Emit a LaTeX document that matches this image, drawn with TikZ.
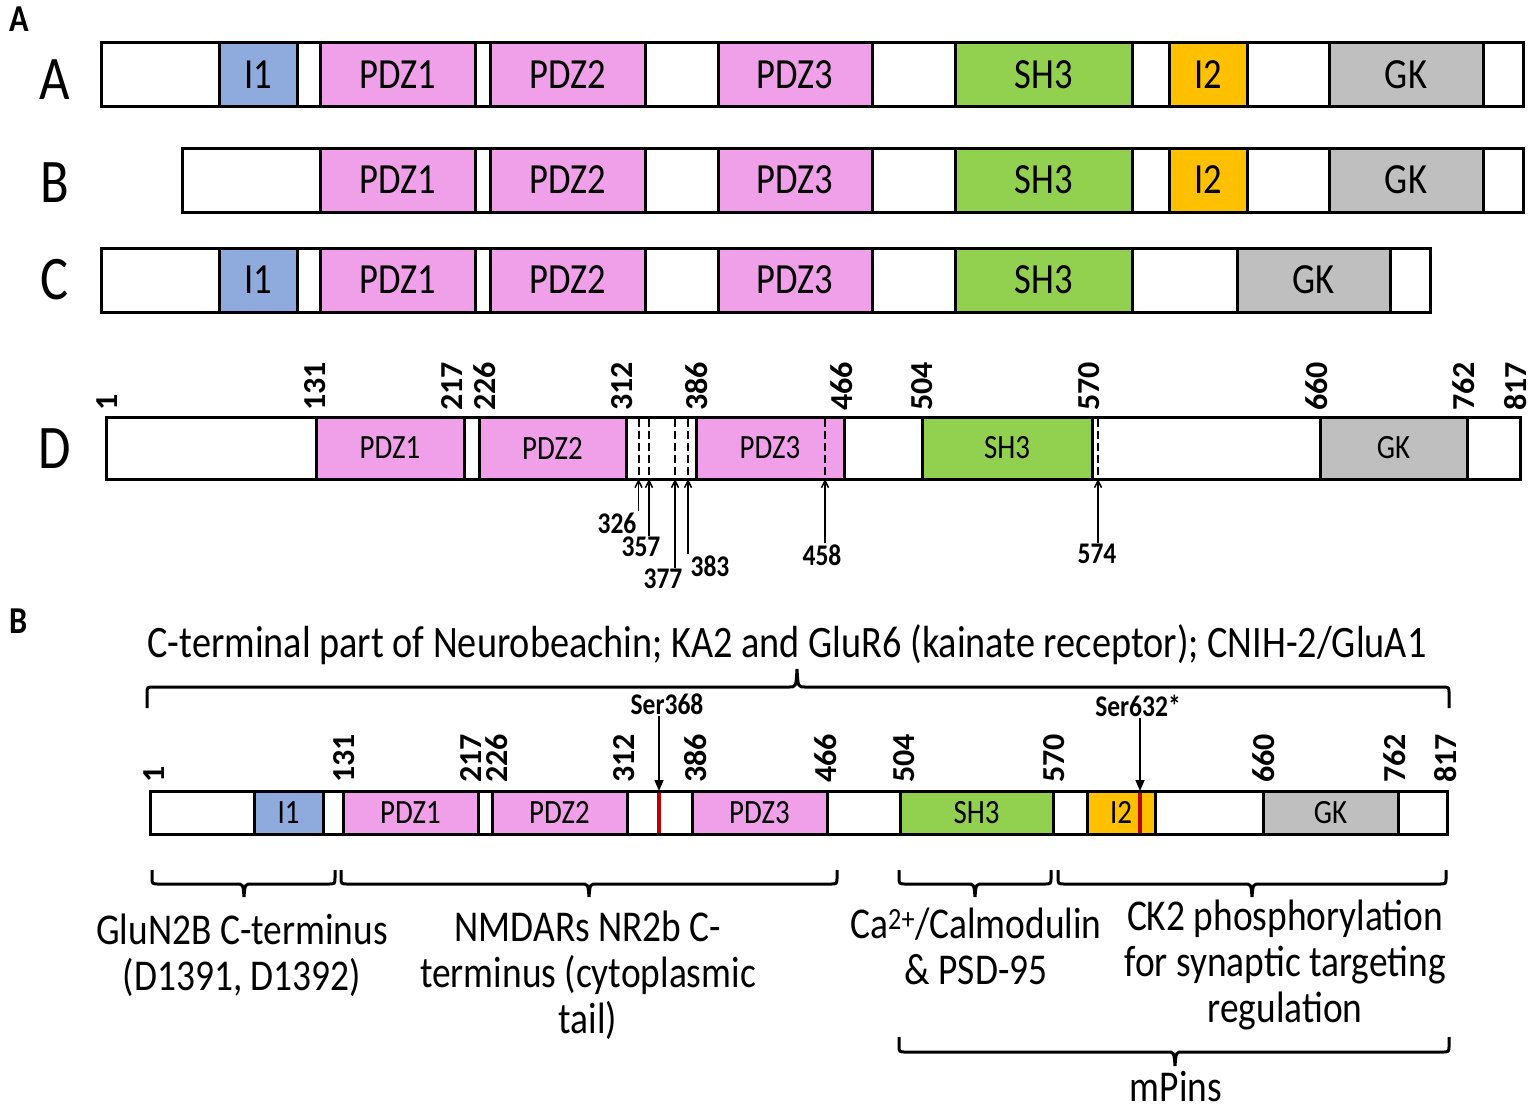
\documentclass[tikz,border=0pt]{standalone}
\usepackage{fontspec}
\setmainfont{Carlito}[FakeStretch=0.85]
\newfontfamily\numfont{Carlito}
\usetikzlibrary{arrows.meta}

\definecolor{pdzpink}{RGB}{240,160,232}
\definecolor{iblue}{RGB}{143,170,220}
\definecolor{shgreen}{RGB}{146,208,80}
\definecolor{iorange}{RGB}{255,192,0}
\definecolor{gkgray}{RGB}{191,191,191}
\definecolor{serred}{RGB}{192,0,0}

\begin{document}
\begin{tikzpicture}[x=1pt, y=-1pt,
    bar/.style={draw, line width=3pt, fill=white, anchor=north west, inner sep=0pt, outer sep=0pt},
    bigdom/.style={bar, minimum height=64pt, font=\fontsize{43}{46}\selectfont},
    middom/.style={bar, minimum height=62pt, font=\fontsize{34}{36}\selectfont},
    lowdom/.style={bar, minimum height=43pt, font=\fontsize{34}{36}\selectfont},
    rowlab/.style={font=\fontsize{62}{64}\selectfont},
    panel/.style={font=\fontsize{38}{40}\selectfont\bfseries},
    resnum/.style={rotate=90, anchor=west, inner sep=0pt, font=\numfont\fontsize{32}{32}\selectfont\bfseries},
    site/.style={inner sep=1pt, font=\fontsize{30}{30}\selectfont\bfseries},
    cut/.style={line width=2pt, dash pattern=on 8pt off 4pt},
    pin/.style={line width=1.5pt, -{Straight Barb[length=7pt,width=7pt]}},
    ser/.style={line width=1.5pt, -{Triangle[length=11pt,width=9pt]}},
    redmark/.style={line width=3.5pt, draw=serred},
    brace/.style={line width=3pt},
    note/.style={align=center, font=\fontsize{44}{46}\selectfont}
]
\useasboundingbox (0,0) rectangle (1536,1113);

% Panel letters
\node[panel] (panelA) at (19,19) {A};
\node[panel] (panelB) at (19,621) {B};

% Row A
\node[rowlab] (labA) at (55,80) {A};
\node[bigdom, minimum width=1422pt] (rowA) at (101,43) {};
\node[bigdom, fill=iblue, minimum width=78pt] (Ai1) at (219,43) {I1};
\node[bigdom, fill=pdzpink, minimum width=155pt] (Apdz1) at (320,43) {PDZ1};
\node[bigdom, fill=pdzpink, minimum width=155pt] (Apdz2) at (490,43) {PDZ2};
\node[bigdom, fill=pdzpink, minimum width=154pt] (Apdz3) at (718,43) {PDZ3};
\node[bigdom, fill=shgreen, minimum width=177pt] (Ash3) at (955,43) {SH3};
\node[bigdom, fill=iorange, minimum width=78pt] (Ai2) at (1169,43) {I2};
\node[bigdom, fill=gkgray, minimum width=154pt] (Agk) at (1329,43) {GK};

% Row B
\node[rowlab] (labB) at (55,183) {B};
\node[bigdom, minimum width=1341pt] (rowB) at (182,148) {};
\node[bigdom, fill=pdzpink, minimum width=155pt] (Bpdz1) at (320,148) {PDZ1};
\node[bigdom, fill=pdzpink, minimum width=155pt] (Bpdz2) at (490,148) {PDZ2};
\node[bigdom, fill=pdzpink, minimum width=154pt] (Bpdz3) at (718,148) {PDZ3};
\node[bigdom, fill=shgreen, minimum width=177pt] (Bsh3) at (955,148) {SH3};
\node[bigdom, fill=iorange, minimum width=78pt] (Bi2) at (1169,148) {I2};
\node[bigdom, fill=gkgray, minimum width=154pt] (Bgk) at (1329,148) {GK};

% Row C
\node[rowlab] (labC) at (55,280) {C};
\node[bigdom, minimum width=1329pt] (rowC) at (101,248) {};
\node[bigdom, fill=iblue, minimum width=78pt] (Ci1) at (219,248) {I1};
\node[bigdom, fill=pdzpink, minimum width=155pt] (Cpdz1) at (320,248) {PDZ1};
\node[bigdom, fill=pdzpink, minimum width=155pt] (Cpdz2) at (490,248) {PDZ2};
\node[bigdom, fill=pdzpink, minimum width=154pt] (Cpdz3) at (718,248) {PDZ3};
\node[bigdom, fill=shgreen, minimum width=177pt] (Csh3) at (955,248) {SH3};
\node[bigdom, fill=gkgray, minimum width=153pt] (Cgk) at (1237,248) {GK};

% Row D
\node[rowlab] (labD) at (55,449) {D};
\node[middom, minimum width=1414pt] (rowD) at (106,417) {};
\node[middom, fill=pdzpink, minimum width=148pt] (Dpdz1) at (316,417) {PDZ1};
\node[middom, fill=pdzpink, minimum width=147pt] (Dpdz2) at (479,417) {PDZ2};
\node[middom, fill=pdzpink, minimum width=148pt] (Dpdz3) at (696,417) {PDZ3};
\node[middom, fill=shgreen, minimum width=170pt] (Dsh3) at (922,417) {SH3};
\node[middom, fill=gkgray, minimum width=147pt] (Dgk) at (1320,417) {GK};

% Row D residue numbers
\node[resnum] (D1) at (107,411) {1};
\node[resnum] (D131) at (315,411) {131};
\node[resnum] (D217) at (452,411) {217};
\node[resnum] (D226) at (485,411) {226};
\node[resnum] (D312) at (622,411) {312};
\node[resnum] (D386) at (697,411) {386};
\node[resnum] (D466) at (842,411) {466};
\node[resnum] (D504) at (922,411) {504};
\node[resnum] (D570) at (1089,411) {570};
\node[resnum] (D660) at (1317,411) {660};
\node[resnum] (D762) at (1464,411) {762};
\node[resnum] (D817) at (1516,411) {817};

% Row D cut sites
\coordinate (c326) at (638.5,479);
\coordinate (c357) at (649,479);
\coordinate (c377) at (675,479);
\coordinate (c383) at (688,479);
\coordinate (c458) at (825,479);
\coordinate (c574) at (1098,479);
\draw[cut] (638.5,419) -- (c326);
\draw[cut] (649,419) -- (c357);
\draw[cut] (675,419) -- (c377);
\draw[cut] (688,419) -- (c383);
\draw[cut] (825,419) -- (c458);
\draw[cut] (1098,419) -- (c574);
\node[site] (n326) at (617,523) {326};
\node[site] (n357) at (641,547) {357};
\node[site] (n377) at (663,579) {377};
\node[site] (n383) at (710,566) {383};
\node[site] (n458) at (822,555) {458};
\node[site] (n574) at (1097,554) {574};
\draw[pin] (c326 |- n326.north) -- (c326);
\draw[pin] (c357 |- n357.north) -- (c357);
\draw[pin] (c377 |- n377.north) -- (c377);
\draw[pin] (c383 |- n383.north) -- (c383);
\draw[pin] (c458 |- n458.north) -- (c458);
\draw[pin] (c574 |- n574.north) -- (c574);

% Panel B binding partners
\node[note, font=\fontsize{45}{47}\selectfont] (partners) at (787,645) {C-terminal part of Neurobeachin; KA2 and GluR6 (kainate receptor); CNIH-2/GluA1};
\draw[brace] (147,708) -- (147,694) .. controls (147,687) .. (154,687) -- (789,687) .. controls (796,687) .. (797,669) .. controls (798,687) .. (805,687) -- (1442,687) .. controls (1449,687) .. (1449,694) -- (1449,708);

% Panel B protein
\node[lowdom, minimum width=1297pt] (rowP) at (150,791) {};
\node[lowdom, fill=iblue, minimum width=69pt] (Pi1) at (254,791) {I1};
\node[lowdom, fill=pdzpink, minimum width=135pt] (Ppdz1) at (343,791) {PDZ1};
\node[lowdom, fill=pdzpink, minimum width=135pt] (Ppdz2) at (492,791) {PDZ2};
\node[lowdom, fill=pdzpink, minimum width=135pt] (Ppdz3) at (692,791) {PDZ3};
\node[lowdom, fill=shgreen, minimum width=153pt] (Psh3) at (900,791) {SH3};
\node[lowdom, fill=iorange, minimum width=68pt] (Pi2) at (1087,791) {I2};
\node[lowdom, fill=gkgray, minimum width=135pt] (Pgk) at (1263,791) {GK};
\draw[redmark] (659,792.5) -- (659,832.5);
\draw[redmark] (1140,792.5) -- (1140,832.5);

% Panel B residue numbers
\node[resnum] (P1) at (154,783) {1};
\node[resnum] (P131) at (344,783) {131};
\node[resnum] (P217) at (471,783) {217};
\node[resnum] (P226) at (497,783) {226};
\node[resnum] (P312) at (624,783) {312};
\node[resnum] (P386) at (696,783) {386};
\node[resnum] (P466) at (826,783) {466};
\node[resnum] (P504) at (904,783) {504};
\node[resnum] (P570) at (1054,783) {570};
\node[resnum] (P660) at (1264,783) {660};
\node[resnum] (P762) at (1395,783) {762};
\node[resnum] (P817) at (1446,783) {817};

% Phosphorylation sites
\node[site] (ser368) at (667,704) {Ser368};
\node[site] (ser632) at (1138,706) {Ser632*};
\coordinate (s368) at (659,791);
\coordinate (s632) at (1140,791);
\draw[ser] (s368 |- ser368.south) -- (s368);
\draw[ser] (s632 |- ser632.south) -- (s632);

% Lower braces
\draw[brace] (152,870) -- (152,877) .. controls (152,884) .. (159,884) -- (236,884) .. controls (243,884) .. (244,897) .. controls (245,884) .. (252,884) -- (328,884) .. controls (335,884) .. (335,877) -- (335,870);
\draw[brace] (341,870) -- (341,877) .. controls (341,884) .. (348,884) -- (581,884) .. controls (588,884) .. (589,897) .. controls (590,884) .. (597,884) -- (830,884) .. controls (837,884) .. (837,877) -- (837,870);
\draw[brace] (899,870) -- (899,877) .. controls (899,884) .. (906,884) -- (967,884) .. controls (974,884) .. (975,897) .. controls (976,884) .. (983,884) -- (1044,884) .. controls (1051,884) .. (1051,877) -- (1051,870);
\draw[brace] (1058,870) -- (1058,877) .. controls (1058,884) .. (1065,884) -- (1244,884) .. controls (1251,884) .. (1252,897) .. controls (1253,884) .. (1260,884) -- (1439,884) .. controls (1446,884) .. (1446,877) -- (1446,870);
\draw[brace] (899,1037) -- (899,1045) .. controls (899,1052) .. (906,1052) -- (1167,1052) .. controls (1174,1052) .. (1175,1066) .. controls (1176,1052) .. (1183,1052) -- (1442,1052) .. controls (1449,1052) .. (1449,1045) -- (1449,1037);

% Lower labels
\node[note] (glun) at (242,955) {GluN2B C-terminus\\(D1391, D1392)};
\node[note] (nmdar) at (588,975) {NMDARs NR2b C-\\terminus (cytoplasmic\\tail)};
\node[note] (calm) at (976,946) {Ca\textsuperscript{2+}/Calmodulin\\\& PSD-95};
\node[note] (ck2) at (1285,965) {CK2 phosphorylation\\for synaptic targeting\\regulation};
\node[inner sep=0pt, font=\fontsize{44}{46}\selectfont] (mpins) at (1176,1087) {mPins};

\end{tikzpicture}
\end{document}
